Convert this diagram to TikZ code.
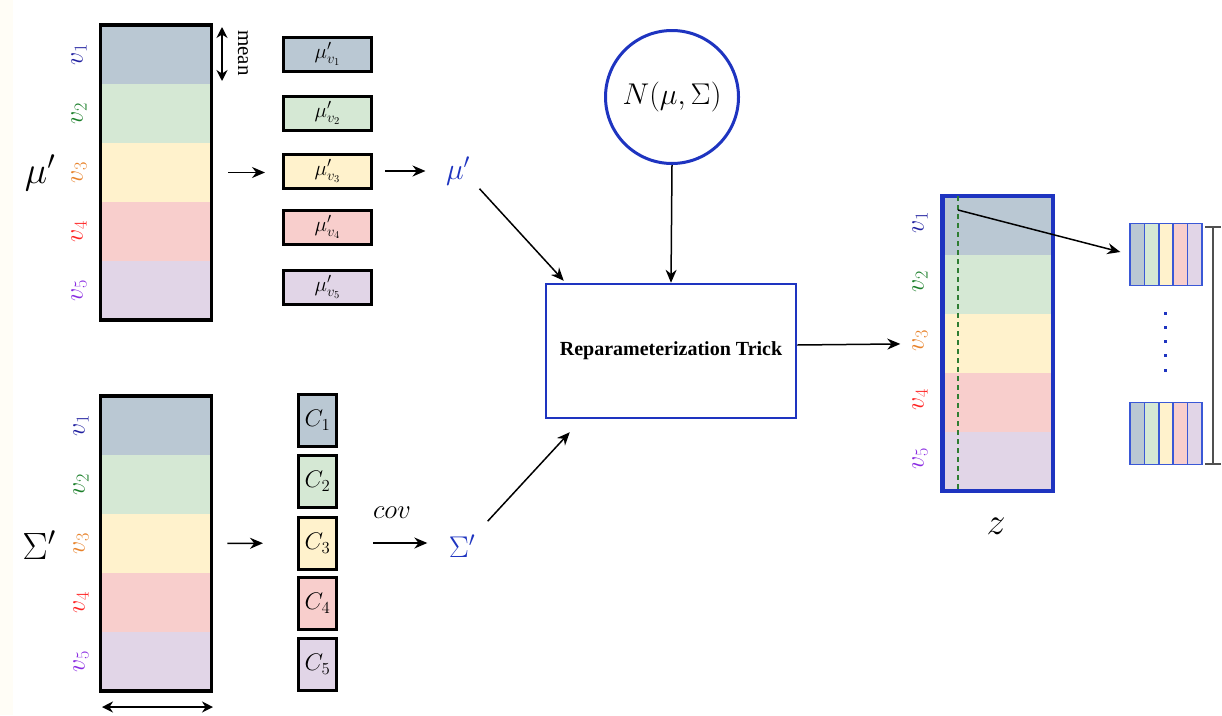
\RequirePackage{fix-cm}
\documentclass[tikz,border=0pt]{standalone}
\usepackage{amsmath}
\usepackage{fontspec}
\newfontfamily\timesfont{Liberation Serif}
\usepackage{tikz}
\usetikzlibrary{arrows.meta,calc,positioning}
\definecolor{rowa}{HTML}{BAC8D3}
\definecolor{rowb}{HTML}{D5E8D4}
\definecolor{rowc}{HTML}{FFF2CC}
\definecolor{rowd}{HTML}{F8CECC}
\definecolor{rowe}{HTML}{E1D5E7}
\definecolor{vcola}{HTML}{2020A0}
\definecolor{vcolb}{HTML}{1B7F2A}
\definecolor{vcolc}{HTML}{E8822A}
\definecolor{vcold}{HTML}{FF2222}
\definecolor{vcole}{HTML}{8A2BE2}
\definecolor{trickblue}{HTML}{1E34C0}
\definecolor{vecblue}{HTML}{3A58D6}
\definecolor{dashgreen}{HTML}{2E7D32}
\definecolor{papercol}{HTML}{FFFDF6}
\definecolor{dimgrey}{HTML}{505050}
\tikzset{
  cell/.style={minimum width=110.5pt,minimum height=59pt,inner sep=0pt},
  vlabel/.style={rotate=90,font=\fontsize{26}{30}\selectfont},
  mubox/.style={draw=black,line width=3pt,minimum width=88pt,minimum height=34pt,inner sep=0pt,font=\fontsize{21}{24}\selectfont},
  cbox/.style={draw=black,line width=3pt,minimum width=38pt,minimum height=52pt,inner sep=0pt,font=\fontsize{24}{28}\selectfont},
  vcell/.style={draw=vecblue,line width=1.5pt,minimum width=14.4pt,minimum height=62pt,inner sep=0pt,outer sep=0pt},
  arr/.style={line width=1.5pt,-{Stealth[length=13pt,width=11pt]}},
  dblarr/.style={line width=1.8pt,{Stealth[length=11pt,width=11pt]}-{Stealth[length=11pt,width=11pt]}},
  bluelab/.style={text=trickblue,font=\fontsize{30}{34}\selectfont},
  biglab/.style={font=\fontsize{38}{42}\selectfont},
}

\begin{document}
\begin{tikzpicture}[x=1pt,y=-1pt]
  \useasboundingbox (0,0) rectangle (1222,715);
  \fill[white] (0,0) rectangle (1222,715);
  \fill[papercol] (0,0) rectangle (13,715);
  % mean matrix
  \foreach \k/\c/\v in {1/rowa/vcola,2/rowb/vcolb,3/rowc/vcolc,4/rowd/vcold,5/rowe/vcole} {
    \node[cell,fill=\c] (ma\k) at (156,{25+59*(\k-0.5)}) {};
    \node[vlabel,text=\v] at (79,{25+59*(\k-0.5)}) {$v_{\k}$};
  }
  \draw[line width=3.5pt] (ma1.north west) rectangle (ma5.south east);
  \node[biglab] (mulab) at (40,173) {$\mu'$};
  \draw[dblarr] (222,27) -- (222,81);
  \node[rotate=-90,font=\timesfont\fontsize{21}{24}\selectfont] (meantxt) at (243,53) {mean};
  % per-node means
  \foreach \k/\c/\y in {1/rowa/54,2/rowb/113,3/rowc/171,4/rowd/227,5/rowe/287} {
    \node[mubox,fill=\c] (mb\k) at (327.5,\y) {$\mu'_{v_{\k}}$};
  }
  \node[bluelab] (mup) at (458,171) {$\mu'$};
  % covariance matrix
  \foreach \k/\c/\v in {1/rowa/vcola,2/rowb/vcolb,3/rowc/vcolc,4/rowd/vcold,5/rowe/vcole} {
    \node[cell,fill=\c] (sa\k) at (156,{396+59*(\k-0.5)}) {};
    \node[vlabel,text=\v] at (81,{396+59*(\k-0.5)}) {$v_{\k}$};
  }
  \draw[line width=3.5pt] (sa1.north west) rectangle (sa5.south east);
  \node[biglab] (siglab) at (39,545) {$\Sigma'$};
  \draw[dblarr] (102,707) -- (213,707);
  % per-node covariances
  \foreach \k/\c/\y in {1/rowa/420.5,2/rowb/481.5,3/rowc/543,4/rowd/603.5,5/rowe/664} {
    \node[cbox,fill=\c] (cb\k) at (317.5,\y) {$C_{\k}$};
  }
  \node[font=\fontsize{27}{30}\selectfont] (cov) at (392,513) {$cov$};
  \node[bluelab] (sigp) at (462,546) {$\Sigma'$};
  % prior and trick
  \node[circle,draw=trickblue,line width=3pt,minimum size=133pt,font=\fontsize{30}{34}\selectfont] (gauss) at (672,97) {$N(\mu,\Sigma)$};
  \node[draw=trickblue,line width=2.5pt,minimum width=250pt,minimum height=134pt,font=\timesfont\bfseries\fontsize{20}{24}\selectfont] (rt) at (671,351) {Reparameterization Trick};
  % latent z
  \foreach \k/\c/\v in {1/rowa/vcola,2/rowb/vcolb,3/rowc/vcolc,4/rowd/vcold,5/rowe/vcole} {
    \node[cell,fill=\c] (za\k) at (997.75,{196+59*(\k-0.5)}) {};
    \node[vlabel,text=\v] at (920,{193+59*(\k-0.5)}) {$v_{\k}$};
  }
  \draw[trickblue,line width=4.5pt] (za1.north west) rectangle (za5.south east);
  \draw[dashgreen,line width=1.4pt,dash pattern=on 5pt off 4pt] (958,196) -- (958,490);
  \coordinate (dtop) at (958,210);
  \node[font=\fontsize{38}{42}\selectfont] (zlab) at (996,526) {$z$};
  % sampled vectors
  \foreach \k/\c in {1/rowa,2/rowb,3/rowc,4/rowd,5/rowe} {
    \node[vcell,fill=\c] (top\k) at ({1130+14.4*(\k-0.5)},254.5) {};
    \node[vcell,fill=\c] (bot\k) at ({1130+14.4*(\k-0.5)},433.5) {};
  }
  \foreach \y in {313,327.3,341.6,355.9,370.2}
    \fill[trickblue] (1163.5,\y-1.5) rectangle ++(3,3);
  \draw[dimgrey,line width=2pt,{Bar[width=16pt]}-{Bar[width=16pt]}] ($(top5.north east)+(11,2)$) -- ($(bot5.south east)+(11,0)$);
  % arrows
  \draw[arr,shorten <=17pt,shorten >=17pt] (ma3.east) -- (ma3.east -| mb3.west);
  \draw[arr,shorten <=12pt,shorten >=17pt] (mb3.east) -- (mup.west);
  \draw[arr] ($(mup.south east)+(6,0)$) -- ($(rt.north west)+(19,-2)$);
  \draw[arr] (gauss.south) -- (rt.north);
  \draw[arr,shorten <=16pt,shorten >=34pt] (sa3.east) -- (cb3.west);
  \draw[arr,shorten <=35pt,shorten >=18pt] (cb3.east) -- (cb3.east -| sigp.west);
  \draw[arr] ($(sigp.north east)+(9,-10)$) -- ($(rt.south west)+(25,13)$);
  \draw[arr,shorten >=42pt] ($(rt.east)+(0,-6)$) -- (za3.west);
  \draw[arr,shorten >=10pt] (dtop) -- (top1.west);
\end{tikzpicture}
\end{document}
